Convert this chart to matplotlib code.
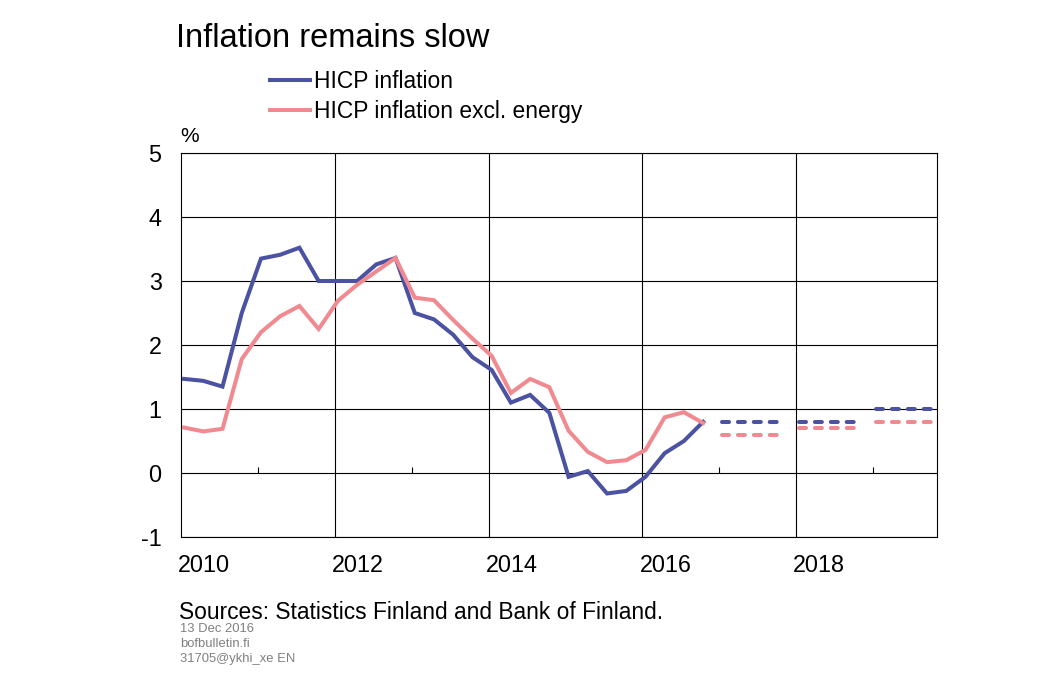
import numpy as np
import matplotlib
matplotlib.use('Agg')
import matplotlib.pyplot as plt
from matplotlib.lines import Line2D

plt.rcParams['font.family'] = ['Liberation Sans', 'DejaVu Sans']
plt.rcParams['axes.unicode_minus'] = False

# quarterly data 2010Q1 - 2016Q4, %
hist_years = np.arange(2010, 2017)
hicp = [1.47, 1.44, 1.35, 2.50, 3.35, 3.41, 3.52, 3.00, 3.00, 3.00, 3.26, 3.36, 2.50, 2.40,
        2.16, 1.81, 1.61, 1.10, 1.22, 0.94, -0.06, 0.03, -0.32, -0.28, -0.06, 0.31, 0.50, 0.80]
hicp_excl_energy = [0.71, 0.65, 0.69, 1.78, 2.20, 2.45, 2.61, 2.25, 2.69, 2.94, 3.15, 3.36, 2.74, 2.70,
                    2.39, 2.10, 1.83, 1.25, 1.47, 1.34, 0.66, 0.33, 0.17, 0.20, 0.36, 0.87, 0.95, 0.78]

# annual forecasts
fcst_years = [2017, 2018, 2019]
fcst_hicp = [0.8, 0.8, 1.0]
fcst_excl_energy = [0.6, 0.7, 0.8]

label_years = [2010, 2012, 2014, 2016, 2018]

BLUE = '#4B52A2'
PINK = '#F08A90'
LW = 2.9
DASHES = (7 / 1.389 / LW, 8.9 / 1.389 / LW)

fig = plt.figure(figsize=(10.54, 6.90), dpi=100)
ax = fig.add_axes([181 / 1054, 153 / 690, 756 / 1054, 384 / 690])

offset = 0.04
x_hist = np.repeat(hist_years, 4) + np.tile(np.arange(4) / 4, len(hist_years)) + offset
ax.plot(x_hist, hicp, color=BLUE, lw=LW, zorder=3, solid_joinstyle='miter')
ax.plot(x_hist, hicp_excl_energy, color=PINK, lw=LW, zorder=3, solid_joinstyle='miter')

for year, v_h, v_e in zip(fcst_years, fcst_hicp, fcst_excl_energy):
    xq = year + np.arange(4) / 4 + offset
    ax.plot(xq, [v_h] * 4, color=BLUE, lw=LW, dashes=DASHES, dash_capstyle='round', zorder=3)
    ax.plot(xq, [v_e] * 4, color=PINK, lw=LW, dashes=DASHES, dash_capstyle='round', zorder=3)

ax.set_xlim(2010, 2010 + 756 / 76.9)
ax.set_ylim(-1, 5)

# grid
ax.set_yticks(range(-1, 6))
ax.set_xticks([y + 0.3 for y in label_years])
ax.set_xticklabels([str(y) for y in label_years])
ax.set_xticks([2012, 2014, 2016, 2018], minor=True)
ax.yaxis.grid(True, color='black', lw=0.8)
ax.xaxis.grid(True, which='minor', color='black', lw=0.8)
ax.xaxis.grid(False, which='major')
ax.set_axisbelow(True)

# small ticks on the zero line
ax.vlines(np.arange(2011, 2020, 2), 0, 0.1, color='black', lw=0.8, zorder=2)

ax.tick_params(axis='both', which='both', length=0, labelsize=16.8)
ax.tick_params(axis='x', pad=12)
ax.tick_params(axis='y', pad=14)

for spine in ax.spines.values():
    spine.set_color('black')
    spine.set_linewidth(0.8)

handles = [Line2D([], [], color=BLUE, lw=LW), Line2D([], [], color=PINK, lw=LW)]
fig.legend(handles, ['HICP inflation', 'HICP inflation excl. energy'],
           loc='upper left', bbox_to_anchor=(270 / 1054, 1 - 70 / 690),
           frameon=False, fontsize=16.4, handlelength=1.75, handletextpad=0.2,
           labelspacing=0.32, borderpad=0, borderaxespad=0)

fig.text(176 / 1054, 1 - 46.7 / 690, 'Inflation remains slow', fontsize=23.5, va='baseline')
fig.text(180 / 1054, 1 - 142 / 690, '%', fontsize=15, va='baseline')
fig.text(179 / 1054, 1 - 619 / 690, 'Sources: Statistics Finland and Bank of Finland.',
         fontsize=16.4, va='baseline')
for i, line in enumerate(['13 Dec 2016', 'bofbulletin.fi', '31705@ykhi_xe EN']):
    fig.text(180 / 1054, 1 - (632 + 15 * i) / 690, line, fontsize=9.4, color='#808080', va='baseline')

fig.savefig('out.png', dpi=100)
